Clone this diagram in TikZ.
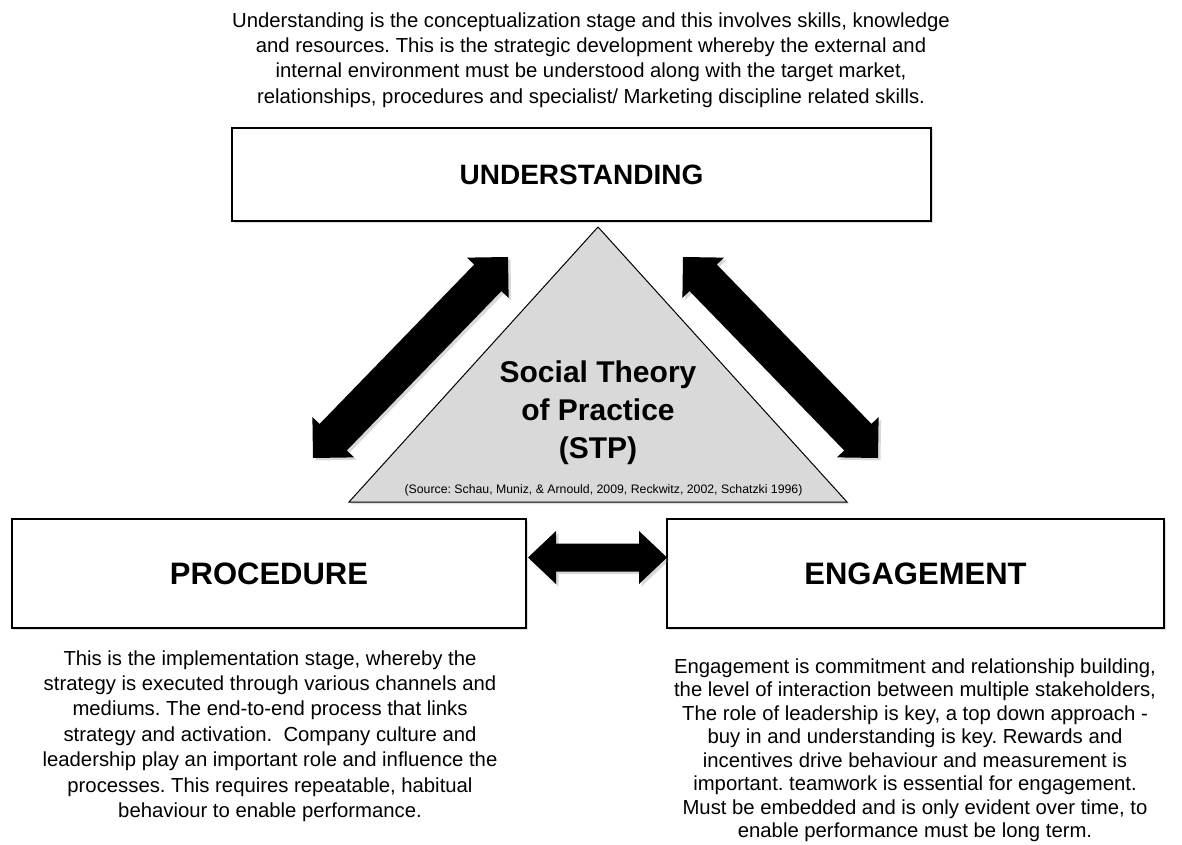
\documentclass[tikz,border=0pt]{standalone}
\usepackage{fontspec}
\setmainfont{Liberation Sans}
\usetikzlibrary{calc,shadows}
\definecolor{trigray}{HTML}{D9D9D9}
\frenchspacing

% double-headed block arrow between two named points
% #1 prefix, #2 from, #3 to, #4 shaft half-width, #5 head half-width, #6 head length
\newcommand\blockarrow[6]{%
  \coordinate (#1-p) at ($(#2)!#6!(#3)$);
  \coordinate (#1-q) at ($(#3)!#6!(#2)$);
  \path[blk] (#2) -- ($(#1-p)!#5!90:(#3)$) -- ($(#1-p)!#4!90:(#3)$)
    -- ($(#1-q)!#4!-90:(#2)$) -- ($(#1-q)!#5!-90:(#2)$) -- (#3)
    -- ($(#1-q)!#5!90:(#2)$) -- ($(#1-q)!#4!90:(#2)$)
    -- ($(#1-p)!#4!-90:(#3)$) -- ($(#1-p)!#5!-90:(#3)$) -- cycle;
}

\begin{document}
\begin{tikzpicture}[x=1pt,y=-1pt,
  stagebox/.style={draw=black, line width=1.8pt, fill=white, inner sep=0pt,
    font=\fontsize{31}{36}\selectfont\bfseries,
    drop shadow={shadow xshift=1.5pt, shadow yshift=-1.5pt, opacity=0.25}},
  desc/.style={align=center, inner sep=0pt, font=\fontsize{20.3}{25.4}\selectfont},
  blk/.style={fill=black,
    drop shadow={shadow xshift=2.5pt, shadow yshift=-2.5pt, opacity=0.3}},
]
\useasboundingbox (0,0) rectangle (1182,845);

% explanatory text above the top stage
\node[desc] (utext) at (591,60) {Understanding is the conceptualization stage and this involves skills, knowledge\\
and resources. This is the strategic development whereby the external and\\
internal environment must be understood along with the target market,\\
relationships, procedures and specialist/ Marketing discipline related skills.};

% the three stages
\node[stagebox, minimum width=699pt, minimum height=93pt, font=\fontsize{28}{33}\selectfont\bfseries]
  (und) at (581.5,174.5) {UNDERSTANDING};
\node[stagebox, minimum width=514pt, minimum height=109pt] (proc) at (269,573.5) {PROCEDURE};
\node[stagebox, minimum width=497pt, minimum height=109pt] (eng) at (915.5,573.5) {ENGAGEMENT};

% central triangle
\coordinate (apex) at (598,227);
\coordinate (bl) at (349,502);
\coordinate (br) at (847,502);
\filldraw[fill=trigray, draw=black, line width=1pt,
  drop shadow={shadow xshift=2pt, shadow yshift=-2pt, opacity=0.25}]
  (bl) -- (br) -- (apex) -- cycle;
\node[align=center, inner sep=0pt, font=\fontsize{30}{38}\selectfont\bfseries] (stp) at (598,413)
  {Social Theory\\of Practice\\(STP)};
\node[inner sep=0pt, font=\fontsize{12.3}{14}\selectfont] (src) at (603.5,490)
  {(Source: Schau, Muniz, \& Arnould, 2009, Reckwitz, 2002, Schatzki 1996)};

% arrows between the stages
\coordinate (la) at (313,458);
\coordinate (lb) at (508,257);
\coordinate (ra) at (878,458);
\coordinate (rb) at (683,257);
\coordinate (ha) at (528,557.5);
\coordinate (hb) at (667,557.5);
\blockarrow{lft}{la}{lb}{19pt}{29pt}{29pt}
\blockarrow{rgt}{ra}{rb}{19pt}{29pt}{29pt}
\blockarrow{mid}{ha}{hb}{14pt}{26.5pt}{28pt}

% explanatory text below the lower stages
\node[desc] (ptext) at (270,736) {This is the implementation stage, whereby the\\
strategy is executed through various channels and\\
mediums. The end-to-end process that links\\
strategy and activation.~ Company culture and\\
leadership play an important role and influence the\\
processes. This requires repeatable, habitual\\
behaviour to enable performance.};

\node[desc, font=\fontsize{20.3}{23.5}\selectfont] (etext) at (915,750) {Engagement is commitment and relationship building,\\
the level of interaction between multiple stakeholders,\\
The role of leadership is key, a top down approach -\\
buy in and understanding is key. Rewards and\\
incentives drive behaviour and measurement is\\
important. teamwork is essential for engagement.\\
Must be embedded and is only evident over time, to\\
enable performance must be long term.};
\end{tikzpicture}
\end{document}
